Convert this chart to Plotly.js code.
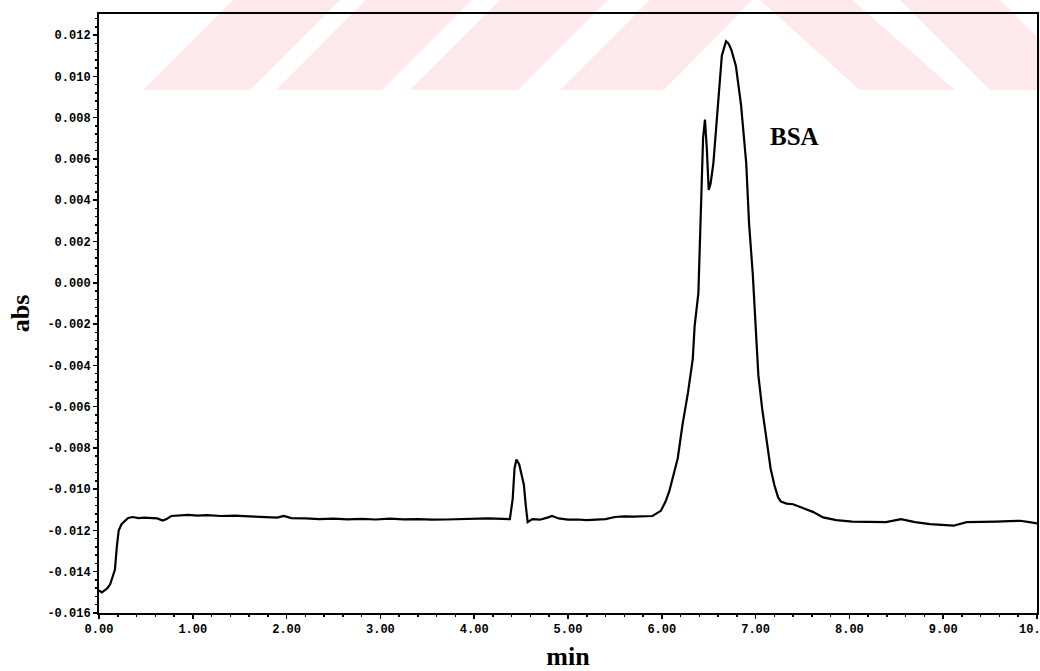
<!DOCTYPE html>
<html>
<head>
<meta charset="utf-8">
<script src="https://cdn.plot.ly/plotly-3.0.1.min.js"></script>
<style>html,body{margin:0;padding:0;background:#fff;overflow:hidden;}#chart{width:1040px;height:671px;}</style>
</head>
<body>
<div id="chart"></div>
<script>
// Retention time (min)
var timeMin = [
  0.00, 0.03, 0.06, 0.09, 0.12, 0.15, 0.17, 0.19, 0.21, 0.24, 0.27, 0.31, 0.36, 0.42, 0.48, 0.55, 0.62, 0.68, 0.72, 0.77,
  0.85, 0.95, 1.05, 1.15, 1.30, 1.45, 1.60, 1.75, 1.90, 1.97, 2.05, 2.20, 2.35, 2.50, 2.65, 2.80, 2.95, 3.10, 3.25, 3.40,
  3.55, 3.70, 3.85, 4.00, 4.15, 4.30, 4.38, 4.41, 4.43, 4.45, 4.48, 4.51, 4.53, 4.55, 4.57, 4.62, 4.70, 4.78, 4.83, 4.90,
  5.00, 5.10, 5.20, 5.30, 5.40, 5.50, 5.60, 5.70, 5.80, 5.90, 5.99, 6.04, 6.08, 6.12, 6.17, 6.22, 6.28, 6.33, 6.35, 6.39,
  6.41, 6.42, 6.44, 6.46, 6.48, 6.50, 6.52, 6.55, 6.595, 6.64, 6.685, 6.71, 6.74, 6.79, 6.845, 6.90, 6.93, 6.97, 7.01, 7.03,
  7.07, 7.11, 7.16, 7.20, 7.24, 7.27, 7.33, 7.40, 7.50, 7.61, 7.72, 7.86, 8.03, 8.20, 8.39, 8.55, 8.70, 8.86, 9.00, 9.11,
  9.25, 9.40, 9.57, 9.70, 9.82, 9.92, 10.00
];
// Absorbance
var absorbance = [
  -0.0149, -0.0150, -0.0149, -0.0148, -0.0146, -0.0142, -0.0139, -0.0128, -0.0120, -0.0117, -0.01155, -0.0114, -0.01135, -0.0114, -0.01138, -0.0114, -0.01142, -0.01152, -0.01145, -0.0113,
  -0.01128, -0.01125, -0.01128, -0.01126, -0.0113, -0.01128, -0.01132, -0.01135, -0.01138, -0.0113, -0.0114, -0.01142, -0.01145, -0.01143, -0.01146, -0.01144, -0.01147, -0.01143, -0.01146, -0.01145,
  -0.01148, -0.01147, -0.01145, -0.01146, -0.01142, -0.01144, -0.01145, -0.0105, -0.0090, -0.00856, -0.0088, -0.0094, -0.0098, -0.0108, -0.0116, -0.01145, -0.01148, -0.01138, -0.0113, -0.01142,
  -0.01148, -0.01147, -0.0115, -0.01148, -0.01145, -0.01135, -0.01132, -0.01133, -0.0113, -0.0113, -0.01105, -0.0106, -0.0101, -0.0094, -0.0085, -0.0069, -0.0053, -0.0037, -0.0021, -0.0005,
  0.0025, 0.0045, 0.0070, 0.0079, 0.0065, 0.0045, 0.0048, 0.0058, 0.0085, 0.0110, 0.0117, 0.0116, 0.0113, 0.0105, 0.0086, 0.0058, 0.0029, 0.0004, -0.0029, -0.0045,
  -0.0061, -0.0074, -0.0090, -0.0098, -0.0104, -0.0106, -0.0107, -0.01073, -0.0109, -0.0111, -0.01137, -0.0115, -0.01157, -0.0116, -0.0116, -0.01145, -0.0116, -0.01169, -0.01172, -0.01177,
  -0.0116, -0.0116, -0.01157, -0.01155, -0.01153, -0.0116, -0.01166
];

var xTickVals = [0, 1, 2, 3, 4, 5, 6, 7, 8, 9, 10];
var xTickText = ['0.00', '1.00', '2.00', '3.00', '4.00', '5.00', '6.00', '7.00', '8.00', '9.00', '10.00'];
var yTickVals = [-0.016, -0.014, -0.012, -0.010, -0.008, -0.006, -0.004, -0.002, 0.000, 0.002, 0.004, 0.006, 0.008, 0.010, 0.012];
var yTickText = ['-0.016', '-0.014', '-0.012', '-0.010', '-0.008', '-0.006', '-0.004', '-0.002', '0.000', '0.002', '0.004', '0.006', '0.008', '0.010', '0.012'];

var peakLabel = 'BSA';
var peakLabelX = 7.41;
var peakLabelY = 0.0071;

// Faint watermark stripes (page pixels: bottom-left, bottom-right, top-right, top-left)
var watermarkStripes = [
  [[143, 90], [250, 90], [340, 0], [233, 0]],
  [[276, 90], [382, 90], [472, 0], [366, 0]],
  [[410, 90], [518, 90], [608, 0], [500, 0]],
  [[560, 90], [664, 90], [752, 0], [650, 0]],
  [[860, 90], [955, 90], [852, 0], [760, 0]],
  [[990, 90], [1090, 90], [1000, 0], [900, 0]]
];

var W = 1040, H = 671;
var M = {l: 99, r: 3, t: 14, b: 58};
var pw = W - M.l - M.r, ph = H - M.t - M.b;
var shapes = watermarkStripes.map(function (pts) {
  var d = pts.map(function (p, i) {
    var px = (p[0] - M.l) / pw, py = (H - M.b - p[1]) / ph;
    return (i === 0 ? 'M' : 'L') + px.toFixed(4) + ',' + py.toFixed(4);
  }).join(' ') + ' Z';
  return {type: 'path', xref: 'paper', yref: 'paper', path: d, fillcolor: '#fde8ec', line: {width: 0}, layer: 'below'};
});

var tickFont = {family: 'Liberation Mono, Courier New, monospace', size: 12, color: '#000', weight: 'bold'};
var titleFont = {family: 'Liberation Serif, Times New Roman, serif', size: 26, color: '#000', weight: 'bold'};

var trace = {
  x: timeMin, y: absorbance, type: 'scatter', mode: 'lines',
  line: {color: '#000', width: 2.2}, hoverinfo: 'x+y'
};

var layout = {
  width: W, height: H,
  margin: M,
  paper_bgcolor: '#fff', plot_bgcolor: 'rgba(0,0,0,0)',
  showlegend: false,
  shapes: shapes,
  xaxis: {
    range: [0, 10], showgrid: false, zeroline: false, automargin: false,
    showline: true, linecolor: '#000', linewidth: 2, mirror: true,
    ticks: 'outside', ticklen: 4, tickwidth: 1.5, tickcolor: '#000',
    tickmode: 'array', tickvals: xTickVals, ticktext: xTickText, tickfont: tickFont,
    ticklabeloverflow: 'allow',
    minor: {tickmode: 'linear', tick0: 0, dtick: 0.2, ticks: 'outside', ticklen: 2, tickwidth: 1.5, tickcolor: '#000', showgrid: false},
    title: {text: 'min', font: titleFont, standoff: 10}
  },
  yaxis: {
    range: [-0.016, 0.01302], showgrid: false, zeroline: false, automargin: false,
    showline: true, linecolor: '#000', linewidth: 2, mirror: true,
    ticks: 'outside', ticklen: 4, tickwidth: 1.5, tickcolor: '#000',
    tickmode: 'array', tickvals: yTickVals, ticktext: yTickText, tickfont: tickFont,
    ticklabeloverflow: 'allow',
    minor: {tickmode: 'linear', tick0: -0.016, dtick: 0.0004, ticks: 'outside', ticklen: 2, tickwidth: 1.5, tickcolor: '#000', showgrid: false},
    title: {text: 'abs', font: titleFont, standoff: 10}
  },
  annotations: [{
    x: peakLabelX, y: peakLabelY, xref: 'x', yref: 'y', text: peakLabel, showarrow: false,
    font: {family: 'Liberation Serif, Times New Roman, serif', size: 25, color: '#000', weight: 'bold'}
  }]
};

Plotly.newPlot('chart', [trace], layout, {displayModeBar: false, staticPlot: true});
</script>
</body>
</html>
